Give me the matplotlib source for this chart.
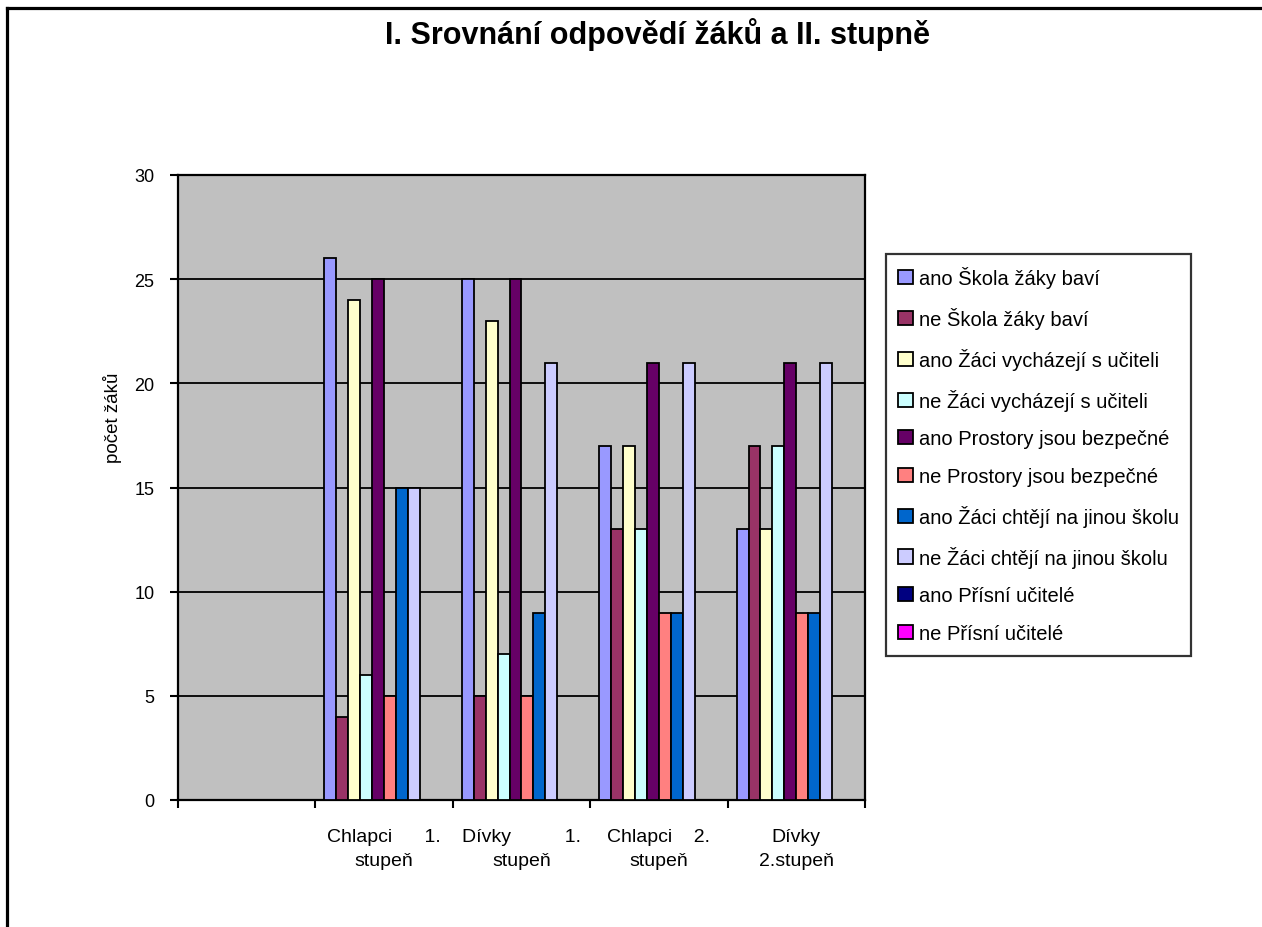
import numpy as np
import matplotlib
matplotlib.use("Agg")
import matplotlib.pyplot as plt
from matplotlib.lines import Line2D

plt.rcParams['font.family'] = ['Liberation Sans', 'DejaVu Sans']

# data
categories = ["", "Chlapci      1.\nstupeň", "Dívky          1.\nstupeň",
              "Chlapci    2.\nstupeň", "Dívky\n2.stupeň"]
series_names = [
    "ano Škola žáky baví",
    "ne Škola žáky baví",
    "ano Žáci vycházejí s učiteli",
    "ne Žáci vycházejí s učiteli",
    "ano Prostory jsou bezpečné",
    "ne Prostory jsou bezpečné",
    "ano Žáci chtějí na jinou školu",
    "ne Žáci chtějí na jinou školu",
    "ano Přísní učitelé",
    "ne Přísní učitelé",
]
ano_skola = [np.nan, 26, 25, 17, 13]
ne_skola = [np.nan, 4, 5, 13, 17]
ano_vychazeji = [np.nan, 24, 23, 17, 13]
ne_vychazeji = [np.nan, 6, 7, 13, 17]
ano_prostory = [np.nan, 25, 25, 21, 21]
ne_prostory = [np.nan, 5, 5, 9, 9]
ano_jinou = [np.nan, 15, 9, 9, 9]
ne_jinou = [np.nan, 15, 21, 21, 21]
ano_prisni = [np.nan, 0, 0, 0, 0]
ne_prisni = [np.nan, 0, 0, 0, 0]
values = [ano_skola, ne_skola, ano_vychazeji, ne_vychazeji, ano_prostory,
          ne_prostory, ano_jinou, ne_jinou, ano_prisni, ne_prisni]
colors = ["#9999FF", "#993366", "#FFFFCC", "#CCFFFF", "#660066",
          "#FF8080", "#0066CC", "#CCCCFF", "#000080", "#FF00FF"]

fig = plt.figure(figsize=(12.62, 9.28), dpi=100)
ax = fig.add_axes([178/1262, 1-801/928, (865-178)/1262, (801-176)/928])
ax.set_facecolor("#C0C0C0")

x = np.arange(len(categories))
n = len(values)
w = 1 / (n + 1.5)
for j, (vals, name, c) in enumerate(zip(values, series_names, colors)):
    pos = x - 0.5 + 0.75*w + (j + 0.5)*w
    ax.bar(pos, vals, width=w, color=c, edgecolor="black", linewidth=1.3,
           label=name, zorder=3)

ax.set_xlim(-0.5, len(categories) - 0.5)
ax.set_ylim(0, 30)
ax.set_yticks(range(0, 31, 5))
ax.yaxis.grid(True, color="black", linewidth=1.3, zorder=1)
ax.set_axisbelow(True)

ax.set_xticks(np.arange(len(categories) + 1) - 0.5)
ax.set_xticklabels([])
ax.set_xticks(x, minor=True)
ax.set_xticklabels(categories, minor=True, fontsize=14, multialignment="center",
                   linespacing=1.55)
ax.tick_params(axis="x", which="minor", length=0, pad=20)
ax.tick_params(axis="both", which="major", direction="out", length=6,
               width=1.5, color="black")
ax.tick_params(axis="y", labelsize=13, pad=11)
for s in ax.spines.values():
    s.set_linewidth(1.6)
    s.set_color("black")

ax.set_ylabel("počet žáků", fontsize=13.5)
ax.yaxis.set_label_coords(-0.081, 0.613)

fig.text(658/1262, 1-44/928, "I. Srovnání odpovědí žáků a II. stupně",
         ha="center", va="baseline", fontsize=22, fontweight="bold")

leg = ax.legend(loc="upper left", bbox_to_anchor=(886/1262, 1-255/928),
                bbox_transform=fig.transFigure, fontsize=14.5, frameon=True,
                fancybox=False, edgecolor="black", borderaxespad=0,
                handlelength=0.7, handleheight=0.7, handletextpad=0.3,
                labelspacing=0.93, borderpad=0.62)
leg.get_frame().set_linewidth(1.6)
for h in leg.legend_handles:
    h.set_linewidth(1.3)

# outer chart border
fig.add_artist(Line2D([7/1262, 7/1262], [0, 1-9/928], color="black",
                      linewidth=2.3, transform=fig.transFigure))
fig.add_artist(Line2D([7/1262, 1], [1-9/928, 1-9/928], color="black",
                      linewidth=2.3, transform=fig.transFigure))

fig.savefig("out.png", dpi=100)
